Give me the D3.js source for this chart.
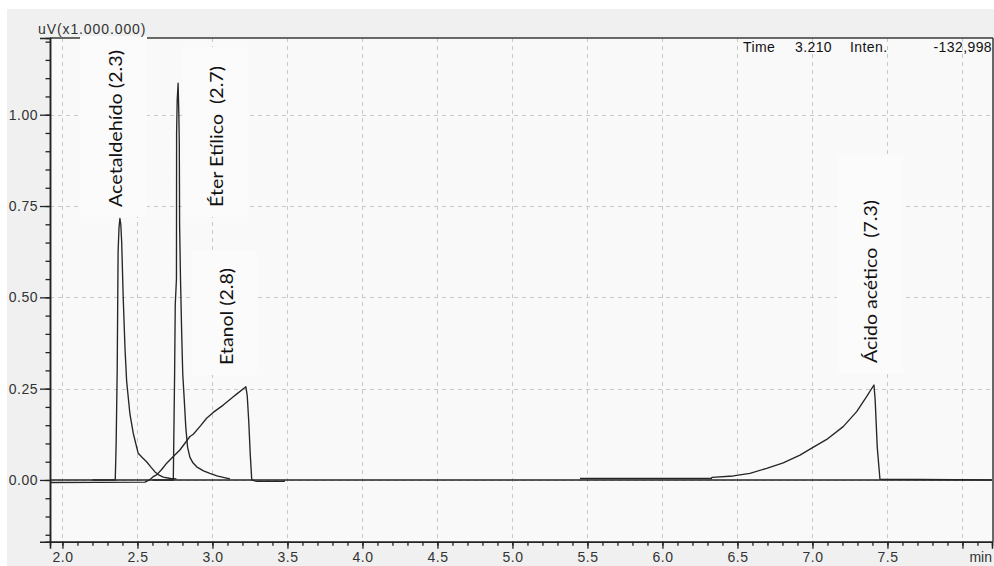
<!DOCTYPE html>
<html>
<head>
<meta charset="utf-8">
<script src="https://cdn.jsdelivr.net/npm/d3@7/dist/d3.min.js"></script>
<style>
  html, body { margin: 0; padding: 0; background: #ffffff; }
  svg { display: block; }
</style>
</head>
<body>
<svg id="chart" width="994" height="566"></svg>
<script>
// ---- data (time in min, intensity in uV x 1,000,000) ----
const baselineTrace = [[1.917, 0.000], [8.197, 0.000]];
const acetaldehido = [[2.20,0.000],[2.352,0.000],[2.358,0.10],[2.365,0.30],[2.371,0.625],[2.377,0.69],[2.383,0.716],[2.389,0.70],[2.395,0.65],[2.405,0.50],[2.417,0.36],[2.428,0.27],[2.45,0.18],[2.472,0.128],[2.505,0.073],[2.53,0.062],[2.561,0.05],[2.59,0.035],[2.617,0.022],[2.645,0.013],[2.672,0.008],[2.72,0.004],[2.76,0.003]];
const eterEtilico = [[2.60,0.000],[2.739,0.000],[2.742,0.10],[2.748,0.30],[2.752,0.48],[2.760,0.55],[2.761,0.95],[2.765,1.04],[2.771,1.086],[2.776,1.00],[2.779,0.92],[2.781,0.70],[2.787,0.55],[2.795,0.40],[2.802,0.29],[2.812,0.22],[2.822,0.146],[2.834,0.09],[2.85,0.062],[2.87,0.047],[2.895,0.036],[2.94,0.025],[2.983,0.018],[3.03,0.011],[3.072,0.007],[3.117,0.003]];
const etanol = [[1.917,-0.007],[2.55,-0.006],[2.58,0.000],[2.605,0.009],[2.628,0.014],[2.66,0.028],[2.695,0.046],[2.739,0.064],[2.783,0.082],[2.85,0.119],[2.872,0.125],[2.92,0.148],[2.961,0.169],[3.005,0.185],[3.072,0.205],[3.139,0.228],[3.161,0.235],[3.223,0.255],[3.232,0.23],[3.242,0.16],[3.252,0.07],[3.262,0.000],[3.295,-0.004],[3.483,-0.004]];
const acidoAcetico = [[5.45,0.004],[6.325,0.004],[6.33,0.007],[6.472,0.011],[6.583,0.018],[6.695,0.032],[6.805,0.047],[6.917,0.068],[6.995,0.087],[7.095,0.111],[7.205,0.146],[7.295,0.187],[7.361,0.228],[7.41,0.26],[7.418,0.22],[7.432,0.09],[7.45,0.002],[8.197,0.000]];

const xMajorTicks = [2.0,2.5,3.0,3.5,4.0,4.5,5.0,5.5,6.0,6.5,7.0,7.5,8.0];
const xTickLabels = ["2.0","2.5","3.0","3.5","4.0","4.5","5.0","5.5","6.0","6.5","7.0","7.5",""];
const xMinorTicks = d3.range(20, 82).map(d => d / 10);
const yMajorTicks = [0.00, 0.25, 0.50, 0.75, 1.00];
const yTickLabels = ["0.00","0.25","0.50","0.75","1.00"];
const yMinorTicks = d3.range(-3, 25).map(d => d * 0.05);

const peakLabels = ["Acetaldehído (2.3)", "Éter Etílico  (2.7)", "Etanol (2.8)", "Ácido acético  (7.3)"];
const headerLabels = ["Time", "3.210", "Inten.", "-132,998"];
const yUnitLabel = "uV(x1.000.000)";
const xUnitLabel = "min";

// ---- layout ----
const svg = d3.select("#chart");
const L = 50, R = 992, T = 38, B = 541.7;
const x = d3.scaleLinear().domain([1.917, 8.197]).range([L, R]);
const y = d3.scaleLinear().domain([-0.169, 1.21]).range([B, T]);
const axisFont = "'Liberation Sans', Arial, sans-serif";
const labelFont = "Lato, 'Open Sans', sans-serif";

svg.append("rect").attr("x", 0).attr("y", 0).attr("width", 994).attr("height", 566).attr("fill", "#ffffff");
svg.append("rect").attr("x", 7).attr("y", 9).attr("width", 987).attr("height", 557).attr("fill", "#f0f0f0");
svg.append("rect").attr("x", L).attr("y", T).attr("width", R - L + 1).attr("height", B - T).attr("fill", "#f9f9f9");

// grid
const grid = svg.append("g").attr("stroke", "#c8c8c8").attr("stroke-width", 1).attr("stroke-dasharray", "4,4");
xMajorTicks.forEach(t => {
  grid.append("line").attr("x1", Math.round(x(t)) + 0.5).attr("x2", Math.round(x(t)) + 0.5).attr("y1", T).attr("y2", B);
});
yMajorTicks.forEach(v => {
  grid.append("line").attr("x1", L).attr("x2", R).attr("y1", Math.round(y(v)) + 0.5).attr("y2", Math.round(y(v)) + 0.5);
});

// traces
svg.append("defs").append("clipPath").attr("id", "clip")
  .append("rect").attr("x", L).attr("y", T).attr("width", R - L).attr("height", B - T);
const line = d3.line().x(d => x(d[0])).y(d => y(d[1]));
const traces = svg.append("g").attr("clip-path", "url(#clip)");
[baselineTrace, etanol, acetaldehido, eterEtilico, acidoAcetico].forEach(s => {
  traces.append("path").datum(s).attr("d", line)
    .attr("fill", "none").attr("stroke", "#262626").attr("stroke-width", 1.35).attr("stroke-linejoin", "round");
});

// frame
svg.append("line").attr("x1", L).attr("x2", 993).attr("y1", T).attr("y2", T).attr("stroke", "#3a3a3a").attr("stroke-width", 1.5);
svg.append("line").attr("x1", 993).attr("x2", 993).attr("y1", T).attr("y2", B).attr("stroke", "#3a3a3a").attr("stroke-width", 1.5);

// peak label boxes and text
const boxes = [
  { x0: 80, x1: 147, y0: 36, y1: 217, cx: 115, ys: 207, ye: 50 },
  { x0: 183, x1: 248, y0: 47, y1: 217, cx: 216.5, ys: 207, ye: 66 },
  { x0: 192, x1: 257, y0: 250, y1: 375, cx: 226.5, ys: 365, ye: 268 },
  { x0: 837, x1: 903, y0: 155, y1: 374, cx: 870, ys: 363, ye: 200 }
];
boxes.forEach((b, i) => {
  svg.append("rect").attr("x", b.x0).attr("y", b.y0).attr("width", b.x1 - b.x0).attr("height", b.y1 - b.y0).attr("fill", "#fbfbfb");
  svg.append("text")
    .attr("transform", `translate(${b.cx},${b.ys}) rotate(-90)`)
    .attr("x", 0).attr("y", 0)
    .attr("dominant-baseline", "central")
    .attr("font-family", labelFont).attr("font-size", 17).attr("fill", "#111")
    .attr("textLength", b.ys - b.ye).attr("lengthAdjust", "spacingAndGlyphs")
    .style("white-space", "pre")
    .text(peakLabels[i]);
});

// axes
const xAxisMinor = d3.axisBottom(x).tickValues(xMinorTicks).tickSize(4).tickFormat("");
const xAxis = d3.axisBottom(x).tickValues(xMajorTicks).tickSize(7).tickPadding(3.5)
  .tickFormat((d, i) => xTickLabels[i]);
const yAxisMinor = d3.axisLeft(y).tickValues(yMinorTicks).tickSize(4.5).tickFormat("");
const yAxis = d3.axisLeft(y).tickValues(yMajorTicks).tickSize(10).tickPadding(2)
  .tickFormat((d, i) => yTickLabels[i]);

function styleAxis(g) {
  g.select(".domain").attr("stroke", "#222").attr("stroke-width", 1.5);
  g.selectAll(".tick line").attr("stroke", "#222").attr("stroke-width", 1.3);
  g.selectAll(".tick text").attr("font-family", axisFont).attr("font-size", 14).attr("fill", "#333").attr("letter-spacing", "0.5px");
}
svg.append("g").attr("transform", `translate(0,${B})`).call(xAxisMinor).call(styleAxis);
svg.append("g").attr("transform", `translate(0,${B})`).call(xAxis).call(styleAxis);
svg.append("g").attr("transform", `translate(${L},0)`).call(yAxisMinor).call(styleAxis);
svg.append("g").attr("transform", `translate(${L},0)`).call(yAxis).call(styleAxis);

// unit labels
svg.append("text").attr("x", 38).attr("y", 34).attr("font-family", axisFont).attr("font-size", 14)
  .attr("fill", "#333").attr("letter-spacing", "0.9px").text(yUnitLabel);
svg.append("text").attr("x", 992).attr("y", 562).attr("text-anchor", "end").attr("font-family", axisFont)
  .attr("font-size", 14).attr("fill", "#333").text(xUnitLabel);

// header readout
const headerPos = [[743, "start"], [795, "start"], [850, "start"], [992, "end"]];
headerLabels.forEach((t, i) => {
  svg.append("text").attr("x", headerPos[i][0]).attr("y", 51.5).attr("text-anchor", headerPos[i][1])
    .attr("font-family", axisFont).attr("font-size", 14).attr("fill", "#111").attr("letter-spacing", "0.4px").text(t);
});
</script>
</body>
</html>
